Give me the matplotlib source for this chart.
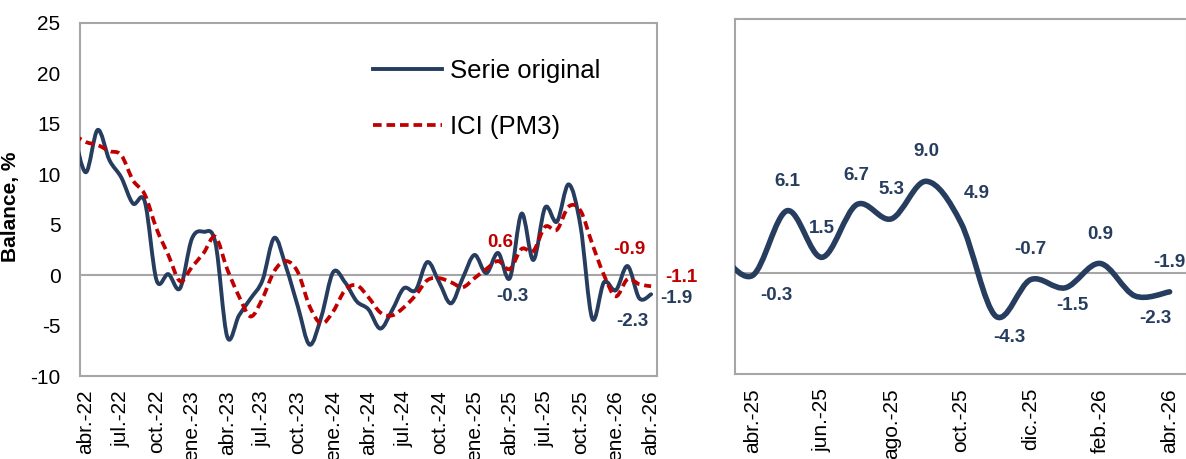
import numpy as np
import matplotlib.pyplot as plt
from matplotlib.path import Path
from matplotlib.patches import PathPatch
from matplotlib.lines import Line2D

plt.rcParams['font.family'] = ['Liberation Sans', 'DejaVu Sans']
plt.rcParams['axes.unicode_minus'] = False

# monthly values, mar.-22 .. abr.-26 (index 0 = mar.-22)
serie_original = [14.0, 10.2, 14.4, 11.4, 9.7, 7.1, 7.3, -0.5, 0.1, -1.3,
                  3.6, 4.3, 3.2, -6.1, -4.0, -2.3, -0.5, 3.7, 0.8, -3.1,
                  -6.9, -4.1, 0.3, -0.7, -2.6, -3.4, -5.3, -3.5, -1.3, -1.5,
                  1.3, -0.7, -2.8, -0.3, 2.0, 0.2, 2.2, -0.3, 6.1, 1.5,
                  6.7, 5.3, 9.0, 4.9, -4.3, -0.7, -1.5, 0.9, -2.3, -1.9]
ici_pm3 = [13.9, 13.2, 12.9, 12.3, 11.9, 9.4, 8.0, 4.6, 2.0, -0.6,
           0.8, 2.2, 3.8, 0.6, -2.1, -4.1, -2.3, 0.4, 1.4, 0.3,
           -3.1, -4.8, -3.6, -1.5, -1.0, -2.2, -3.7, -4.0, -3.2, -2.0,
           -0.5, -0.3, -0.7, -1.2, -0.3, 0.6, 1.4, 0.6, 2.6, 2.4,
           4.8, 4.5, 6.8, 6.4, 3.1, 0.0, -2.1, -0.4, -0.9, -1.1]

left_ticks = ["abr.-22", "jul.-22", "oct.-22", "ene.-23", "abr.-23", "jul.-23",
              "oct.-23", "ene.-24", "abr.-24", "jul.-24", "oct.-24", "ene.-25",
              "abr.-25", "jul.-25", "oct.-25", "ene.-26", "abr.-26"]
right_ticks = ["abr.-25", "jun.-25", "ago.-25", "oct.-25", "dic.-25", "feb.-26", "abr.-26"]

BLUE = "#263D5F"
RED = "#C00000"
GRAY = "#A6A6A6"
DASH = (0, (2.3, 1.3))


def smooth_path(x, y):
    # Excel-style smoothed line: cubic Bezier segments through the data points
    pts = np.column_stack([x, y]).astype(float)
    n = len(pts)
    verts = [pts[0]]
    codes = [Path.MOVETO]
    for i in range(n - 1):
        p0 = pts[i - 1] if i > 0 else pts[i]
        p1 = pts[i]
        p2 = pts[i + 1]
        p3 = pts[i + 2] if i + 2 < n else pts[i + 1]
        verts += [p1 + (p2 - p0) / 6, p2 - (p3 - p1) / 6, p2]
        codes += [Path.CURVE4] * 3
    return Path(verts, codes)


fig = plt.figure(figsize=(11.86, 4.59), dpi=100)
ax1 = fig.add_axes([80 / 1186, 83 / 459, 577 / 1186, 353 / 459])
ax2 = fig.add_axes([735 / 1186, 85 / 459, 452 / 1186, 355 / 459])

x = np.arange(len(serie_original))

# ---- left chart
ax1.axhline(0, color=GRAY, lw=1.5, zorder=1)
ax1.add_patch(PathPatch(smooth_path(x, serie_original), fill=False, ec=BLUE,
                        lw=2.8, joinstyle='round', capstyle='round', zorder=3))
ax1.add_patch(PathPatch(smooth_path(x, ici_pm3), fill=False, ec=RED,
                        lw=2.7, ls=DASH, zorder=4))
ax1.set_xlim(0.5, len(x) - 0.5)
ax1.set_ylim(-10, 25)
ax1.set_yticks(np.arange(-10, 26, 5))
ax1.set_xticks(x[1::3])
ax1.set_xticklabels(left_ticks, rotation=90)
ax1.tick_params(length=0, labelsize=15)
ax1.tick_params(axis='y', pad=14)
ax1.tick_params(axis='x', pad=10)
for s in ax1.spines.values():
    s.set_color(GRAY)
    s.set_linewidth(1.5)
ax1.set_ylabel("Balance, %", fontsize=15, fontweight='bold')
ax1.yaxis.set_label_coords(-0.104, 0.48)

handles = [Line2D([], [], color=BLUE, lw=2.8),
           Line2D([], [], color=RED, lw=2.7, ls=DASH)]
fig.legend(handles, ["Serie original", "ICI (PM3)"], loc='upper left',
           bbox_to_anchor=(373 / 1186, 1 - 59 / 459), frameon=False, fontsize=18.5,
           handlelength=2.7, handletextpad=0.3, labelspacing=1.25, borderpad=0,
           borderaxespad=0)

lbl = dict(fontsize=13.5, fontweight='bold', textcoords='offset points',
           ha='center', va='center', annotation_clip=False)
ax1.annotate(f"{ici_pm3[37]:.1f}", (37, ici_pm3[37]), xytext=(-7, 19.5), color=RED, **lbl)
ax1.annotate(f"{serie_original[37]:.1f}", (37, serie_original[37]), xytext=(1.5, -13.5), color=BLUE, **lbl)
ax1.annotate(f"{ici_pm3[48]:.1f}", (48, ici_pm3[48]), xytext=(-7, 25), color=RED, **lbl)
ax1.annotate(f"{serie_original[48]:.1f}", (48, serie_original[48]), xytext=(-5, -17), color=BLUE, **lbl)
lbl_l = dict(lbl, ha='left')
ax1.annotate(f"{serie_original[49]:.1f}", (49, serie_original[49]), xytext=(6.5, -3), color=BLUE, **lbl_l)
ax1.annotate(f"{ici_pm3[49]:.1f}", (49, ici_pm3[49]), xytext=(10, 6), color=RED, **lbl_l)

# ---- right chart (zoom on last months)
start = 36  # mar.-25
xr = x[start:]
yr = serie_original[start:]
ax2.axhline(0, color=GRAY, lw=1.5, zorder=1)
ax2.add_patch(PathPatch(smooth_path(xr, yr), fill=False, ec=BLUE,
                        lw=4.0, joinstyle='round', capstyle='round', zorder=3))
ax2.set_xlim(start + 0.5, len(x) - 0.5)
ax2.set_ylim(-10, 25)
ax2.set_yticks([])
ax2.set_xticks(xr[1::2])
ax2.set_xticklabels(right_ticks, rotation=90)
ax2.tick_params(length=0, labelsize=15)
ax2.tick_params(axis='x', pad=10)
for s in ax2.spines.values():
    s.set_color(GRAY)
    s.set_linewidth(1.5)

right_offsets = {37: (17, -14), 38: (0, 21), 39: (0, 21), 40: (0, 21), 41: (0, 21),
                 42: (0, 21.5), 43: (11.5, 21.5), 44: (10, -15), 45: (0, 21.5),
                 46: (5, -13), 47: (0, 21), 48: (14.5, -16), 49: (0, 21)}
for k, off in right_offsets.items():
    ax2.annotate(f"{serie_original[k]:.1f}", (k, serie_original[k]), xytext=off,
                 color=BLUE, **lbl)

fig.savefig("out.png", dpi=100)
